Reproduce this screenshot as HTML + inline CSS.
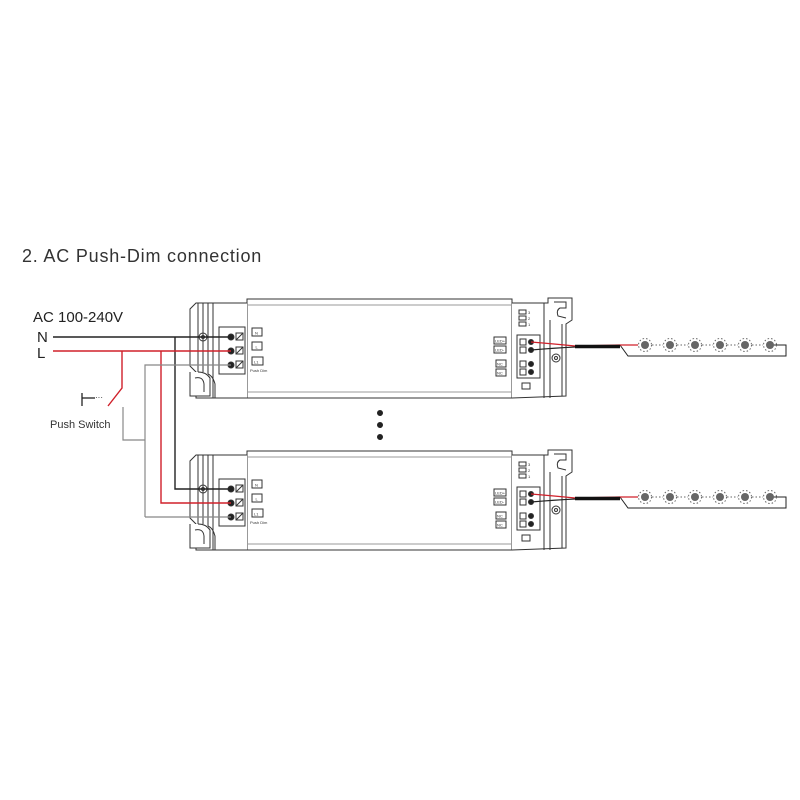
<!DOCTYPE html>
<html><head><meta charset="utf-8"><style>
html,body{margin:0;padding:0;background:#fff}
svg{display:block}
text{font-family:"Liberation Sans",sans-serif}
</style></head><body>
<svg width="800" height="800" viewBox="0 0 800 800" xmlns="http://www.w3.org/2000/svg">
<rect width="800" height="800" fill="#fff"/>
<text x="22" y="262" font-size="18" fill="#333" letter-spacing="0.8">2. AC Push-Dim connection</text>
<text x="33" y="322" font-size="15" fill="#222">AC 100-240V</text>
<text x="37" y="342" font-size="15" fill="#222">N</text>
<text x="37" y="358" font-size="15" fill="#222">L</text>
<text x="50" y="428" font-size="11" fill="#333">Push Switch</text>

<defs>
<g id="drv" fill="none" stroke="#333" stroke-width="1">
  <rect x="247" y="299" width="265" height="99" fill="#fff"/>
  <line x1="247" y1="305" x2="512" y2="305" stroke="#999"/>
  <line x1="247" y1="392" x2="512" y2="392" stroke="#999"/>
  <path d="M247 303 L196 303 L190 309 L190 366 L196 372 L196 398 L247 398" fill="#fff"/>
  <path d="M190 372 L190 396 L210 396 L210 378 Q206 372 198 372" fill="#fff"/>
  <path d="M195 378 Q203 376 204 384 L204 392" />
  <line x1="198" y1="303" x2="198" y2="372"/>
  <line x1="203" y1="303" x2="203" y2="372"/>
  <line x1="208" y1="303" x2="208" y2="374"/>
  <line x1="213" y1="303" x2="213" y2="398"/>
  <path d="M208 374 Q213 376 215 384 L215 398"/>
  <circle cx="203" cy="337" r="4"/>
  <circle cx="203" cy="337" r="1.5"/>
  <rect x="219" y="327" width="26" height="47"/>
  <rect x="236" y="333" width="7" height="7"/><line x1="236" y1="340" x2="243" y2="333"/>
  <rect x="236" y="347" width="7" height="7"/><line x1="236" y1="354" x2="243" y2="347"/>
  <rect x="236" y="361" width="7" height="7"/><line x1="236" y1="368" x2="243" y2="361"/>
  <circle cx="231" cy="337" r="3" fill="#222"/><circle cx="231" cy="351" r="3" fill="#222"/><circle cx="231" cy="365" r="3" fill="#222"/>
  <rect x="252" y="328" width="10" height="8"/>
  <rect x="252" y="342" width="10" height="8"/>
  <rect x="252" y="357" width="11" height="8"/>
  <path d="M512 303 L548 303 L548 298 L572 298 L572 320 L566 324 L566 396 L512 398" fill="#fff"/>
  <path d="M554 302 L566 302 L566 308 L560 308 Q556 310 558 316 L566 318"/>
  <line x1="544" y1="303" x2="544" y2="398"/>
  <line x1="550" y1="320" x2="550" y2="398"/>
  <line x1="562" y1="324" x2="562" y2="396"/>
  <circle cx="556" cy="358" r="4"/><circle cx="556" cy="358" r="1.5"/>
  <rect x="517" y="335" width="23" height="43"/>
  <rect x="519" y="310" width="7" height="4"/><rect x="519" y="316" width="7" height="4"/><rect x="519" y="322" width="7" height="4"/>
  <rect x="520" y="339" width="6" height="6"/><rect x="520" y="347" width="6" height="6"/>
  <rect x="520" y="361" width="6" height="6"/><rect x="520" y="369" width="6" height="6"/>
  <circle cx="531" cy="342" r="2.5" fill="#222"/><circle cx="531" cy="350" r="2.5" fill="#222"/>
  <circle cx="531" cy="364" r="2.5" fill="#222"/><circle cx="531" cy="372" r="2.5" fill="#222"/>
  <rect x="494" y="337" width="12" height="7"/><rect x="494" y="346" width="12" height="7"/>
  <rect x="496" y="360" width="10" height="7"/><rect x="496" y="369" width="10" height="7"/>
  <rect x="522" y="383" width="8" height="6"/>
  <g stroke="none" fill="#333" font-size="4">
    <text x="255" y="334.5">N</text><text x="255.5" y="348.5">L</text><text x="254" y="363.5">L1</text>
    <text x="250" y="372">Push Dim</text>
    <text x="495" y="342.5">LED+</text><text x="495" y="351.5">LED-</text>
    <text x="497" y="365.5">NC</text><text x="497" y="374.5">NC</text>
    <text x="528" y="314">3</text><text x="528" y="320">2</text><text x="528" y="326">1</text>
  </g>
</g>
<g id="strip" fill="none" stroke="#222" stroke-width="1">
  <path d="M620 345 L628 356 L786 356 L786 345 L772 345"/>
  <g fill="#666" stroke="none">
    <circle cx="645" cy="345" r="4"/><circle cx="670" cy="345" r="4"/><circle cx="695" cy="345" r="4"/>
    <circle cx="720" cy="345" r="4"/><circle cx="745" cy="345" r="4"/><circle cx="770" cy="345" r="4"/>
  </g>
  <g stroke="#666" stroke-dasharray="1.5 2">
    <circle cx="645" cy="345" r="6.5"/><circle cx="670" cy="345" r="6.5"/><circle cx="695" cy="345" r="6.5"/>
    <circle cx="720" cy="345" r="6.5"/><circle cx="745" cy="345" r="6.5"/><circle cx="770" cy="345" r="6.5"/>
    <line x1="652" y1="345" x2="663" y2="345"/><line x1="677" y1="345" x2="688" y2="345"/>
    <line x1="702" y1="345" x2="713" y2="345"/><line x1="727" y1="345" x2="738" y2="345"/><line x1="752" y1="345" x2="763" y2="345"/>
  </g>
  <path d="M531 342 Q555 344 575 346 L620 345 L638 345" stroke="#d0202a" stroke-width="1.3"/>
  <path d="M531 350 Q555 348 575 347" stroke="#222" stroke-width="1.3"/>
  <line x1="575" y1="346.5" x2="620" y2="346.5" stroke="#111" stroke-width="3.5"/>
</g>
</defs>

<use href="#drv"/>
<use href="#drv" y="152"/>
<use href="#strip"/>
<use href="#strip" y="152"/>

<g fill="none" stroke-width="1.4">
  <path d="M53 337 L231 337" stroke="#222"/>
  <path d="M175 337 L175 489 L231 489" stroke="#222"/>
  <path d="M53 351 L231 351" stroke="#d0202a"/>
  <path d="M161 351 L161 503 L231 503" stroke="#d0202a"/>
  <path d="M122 351 L122 388 L108 406" stroke="#d0202a"/>
  <path d="M123 407 L123 440 L145 440 M145 517 L145 365 L231 365 M145 517 L231 517" stroke="#888" stroke-width="1.2"/>
</g>
<g stroke="#222" stroke-width="1.3" fill="none">
  <line x1="82" y1="393" x2="82" y2="406"/>
  <line x1="82" y1="398" x2="95" y2="398"/>
</g>
<text x="95" y="400" font-size="8" fill="#222">···</text>

<circle cx="380" cy="413" r="3" fill="#222"/>
<circle cx="380" cy="425" r="3" fill="#222"/>
<circle cx="380" cy="437" r="3" fill="#222"/>
</svg>
</body></html>
